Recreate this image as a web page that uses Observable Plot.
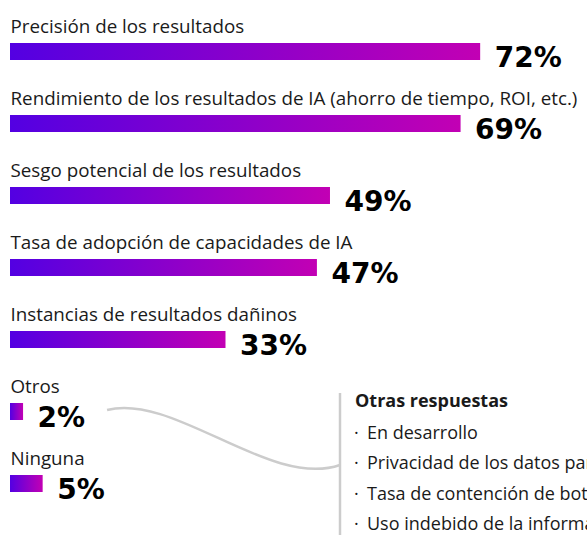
<!DOCTYPE html>
<html><head><meta charset="utf-8">
<script src="https://cdn.jsdelivr.net/npm/d3@7"></script>
<script src="https://cdn.jsdelivr.net/npm/@observablehq/plot@0.6"></script>
<style>
html,body{margin:0;padding:0;background:#fff;overflow:hidden}
svg{display:block}
</style></head><body><div id="chart"></div>
<script>
const categories = [
  "Precisión de los resultados",
  "Rendimiento de los resultados de IA (ahorro de tiempo, ROI, etc.)",
  "Sesgo potencial de los resultados",
  "Tasa de adopción de capacidades de IA",
  "Instancias de resultados dañinos",
  "Otros",
  "Ninguna"
];
const values = [72, 69, 49, 47, 33, 2, 5];
const valueLabels = ["72%", "69%", "49%", "47%", "33%", "2%", "5%"];
const otherTitle = "Otras respuestas";
const otherResponses = [
  "En desarrollo",
  "Privacidad de los datos para los clientes",
  "Tasa de contención de bots",
  "Uso indebido de la información"
];
const gradStart = "#5300E2";
const gradEnd = "#C200B4";

const data = categories.map((c, i) => ({category: c, value: values[i], label: valueLabels[i]}));

const W = 587, H = 535;
const FONT = "'Open Sans', 'Noto Sans', sans-serif";
const NUMFONT = "'DejaVu Sans', sans-serif";

function getScales(args) {
  for (const a of args) if (a && typeof a.x === "function" && typeof a.y === "function") return a;
  return args[1];
}

const defsMark = (...args) => {
  const defs = d3.create("svg:defs");
  const g = defs.append("linearGradient").attr("id", "barGrad")
    .attr("x1", 0).attr("x2", 1).attr("y1", 0).attr("y2", 0);
  g.append("stop").attr("offset", "0%").attr("stop-color", gradStart);
  g.append("stop").attr("offset", "100%").attr("stop-color", gradEnd);
  return defs.node();
};

const annotationMark = (...args) => {
  const s = getScales(args);
  const x = s.x, y = s.y;
  const bw = y.bandwidth ? y.bandwidth() : 17;
  const boxX = 340, boxTop = 393;
  const g = d3.create("svg:g").attr("text-anchor", "start").attr("font-family", FONT);
  // connector from "Otros" value label to the annotation box
  const x0 = x(values[5]) + 84;
  const y0 = y(categories[5]) + bw / 2 - 1.5;
  const x3 = boxX, y3 = y(categories[6]) - 10;
  const p = d3.path();
  p.moveTo(x0, y0);
  p.bezierCurveTo(x0 + 68, y0 - 17, x3 - 70, y3 + 24, x3, y3);
  g.append("path").attr("d", p.toString()).attr("fill", "none")
    .attr("stroke", "#cccccc").attr("stroke-width", 2.5);
  g.append("line").attr("x1", boxX).attr("x2", boxX).attr("y1", boxTop).attr("y2", H + 5)
    .attr("stroke", "#cccccc").attr("stroke-width", 2.5);
  g.append("text").attr("x", boxX + 15).attr("y", boxTop + 14)
    .attr("font-size", 18).attr("font-weight", 700).attr("fill", "#1a1a1a").text(otherTitle);
  otherResponses.forEach((t, i) => {
    const by = boxTop + 45.5 + i * 30.5;
    g.append("text").attr("x", boxX + 14).attr("y", by).attr("font-size", 18)
      .attr("fill", "#1a1a1a").text("·");
    g.append("text").attr("x", boxX + 27).attr("y", by).attr("font-size", 18)
      .attr("fill", "#1a1a1a").text(t);
  });
  return g.node();
};

const chart = Plot.plot({
  width: W, height: H,
  marginLeft: 10, marginRight: 0, marginTop: 0, marginBottom: 0,
  x: {domain: [0, 88.36], axis: null},
  y: {type: "band", domain: categories, range: [41, 493], paddingInner: 0.7655, paddingOuter: 0, axis: null},
  style: {fontFamily: FONT, background: "#fff", overflow: "hidden"},
  marks: [
    defsMark,
    Plot.barX(data, {x: "value", y: "category", fill: "url(#barGrad)"}),
    Plot.text(data, {x: 0, y: "category", text: "category", textAnchor: "start", lineAnchor: "bottom",
      dy: -19, fontSize: 18.8, fill: "#1a1a1a"}),
    Plot.text(data, {x: "value", y: "category", text: "label", textAnchor: "start", lineAnchor: "bottom",
      dx: 14, dy: 15, fontSize: 28, fontWeight: 900, fontFamily: NUMFONT, fill: "#000"}),
    annotationMark
  ]
});
document.getElementById("chart").appendChild(chart);
</script>
</body></html>
